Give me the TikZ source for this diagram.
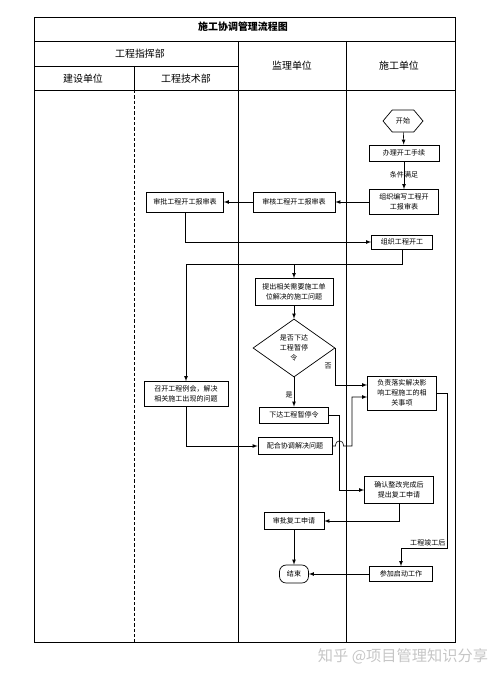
\documentclass[tikz,border=0pt]{standalone}
\usepackage{fontspec}
\setmainfont{Noto Sans CJK SC}
\usetikzlibrary{shapes.geometric,shapes.symbols,calc}

\tikzset{
  box/.style={draw, line width=0.6pt, align=center, inner sep=1pt, font=\fontsize{6}{8.5}\selectfont},
  lbl/.style={inner sep=1pt, font=\fontsize{6}{8}\selectfont},
  head/.style={inner sep=1pt, font=\fontsize{8.5}{10}\selectfont},
  grid/.style={line width=0.8pt},
}

\begin{document}
\begin{tikzpicture}[x=0.3mm, y=-0.3mm, >=latex, line width=0.5pt]
\useasboundingbox (0,0) rectangle (500,677);

% Table
\draw[grid] (34,17) rectangle (455,642);
\draw[grid] (34,41) -- (455,41);
\draw[grid] (34,66) -- (238,66);
\draw[grid] (34,90) -- (455,90);
\draw[grid] (134,66) -- (134,90);
\draw[grid, dash pattern=on 1mm off 0.6mm] (134,90) -- (134,642);
\draw[grid] (238,41) -- (238,642);
\draw[grid] (346,41) -- (346,642);

% Headers
\node[head, font=\fontsize{8.5}{10}\selectfont\bfseries] (h0) at (243,27) {施工协调管理流程图};
\node[head] (h1) at (140,54) {工程指挥部};
\node[head] (h2) at (83,79) {建设单位};
\node[head] (h3) at (186,79) {工程技术部};
\node[head] (h4) at (292,66) {监理单位};
\node[head] (h5) at (399,66) {施工单位};

% Nodes
\node[box, signal, signal to=east and west, signal pointer angle=100, minimum width=12mm, minimum height=6.6mm] (v0) at (403,121) {开始};
\node[box, minimum width=21mm, minimum height=4.8mm] (v1) at (404,153) {办理开工手续};
\node[box, minimum width=20.7mm, minimum height=7.5mm] (v2) at (404,202) {组织编写工程开\\工报审表};
\node[box, minimum width=24.6mm, minimum height=6mm] (v3) at (294,202) {审核工程开工报审表};
\node[box, minimum width=23.1mm, minimum height=6mm] (v4) at (185,202) {审批工程开工报审表};
\node[box, minimum width=18.3mm, minimum height=4.2mm] (v5) at (402,242) {组织工程开工};
\node[box, minimum width=23.4mm, minimum height=8.1mm] (v6) at (294,292) {提出相关需要施工单\\位解决的施工问题};
\node[box, diamond, inner sep=0pt, minimum width=24.6mm, minimum height=17.4mm] (v7) at (294,348) {是否下达\\工程暂停\\令};
\node[box, minimum width=20.7mm, minimum height=4.8mm] (v8) at (294,415) {下达工程暂停令};
\node[box, minimum width=20.7mm, minimum height=10.2mm] (v9) at (402,393) {负责落实解决影\\响工程施工的相\\关事项};
\node[box, minimum width=25.2mm, minimum height=7.5mm] (v10) at (186,394) {召开工程例会，解决\\相关施工出现的问题};
\node[box, minimum width=22.2mm, minimum height=5.1mm] (v11) at (295,446) {配合协调解决问题};
\node[box, minimum width=20.7mm, minimum height=8.1mm] (v12) at (399,490) {确认整改完成后\\提出复工申请};
\node[box, minimum width=18mm, minimum height=5.1mm] (v13) at (294,521) {审批复工申请};
\node[box, minimum width=18.9mm, minimum height=4.5mm] (v14) at (401,574) {参加启动工作};
\node[box, rounded corners=2mm, minimum width=8.7mm, minimum height=5.4mm] (v15) at (294,574) {结束};

% Arrows
\draw[->] (v0) -- (v1);
\draw[->] (v1) -- node[lbl] {条件满足} (v2);
\draw[->] (v2) -- (v3);
\draw[->] (v3) -- (v4);
\draw[->] (v4) |- (v5);
\draw[->] (v5.south) -- ++(0,15) -| (v10);
\draw[->] (v5.south) -- ++(0,15) -| (v6);
\draw[->] (v6) -- (v7);
\draw[->] (v7.east) |- node[lbl, pos=0.25, left=2pt] {否} ($(v9.west)+(0,-8)$);
\draw[->] (v7) -- node[lbl, pos=0.6, left] {是} (v8);
\draw[->] (v8.east) -- ++(10,0) |- (v12);
\draw[->] (v10) |- (v11);
\draw[->] (v11.east) -- (335.5,446) .. controls (335.5,439) and (343.5,439) .. (343.5,446) -- (352,446) |- ($(v9.west)+(0,4)$);
\draw[->] (v9.east) -- ++(10,0) -- ++(0,155) node[lbl, above left] {工程竣工后} -| (v14);
\draw[->] (v12) |- (v13);
\draw[->] (v13) -- (v15);
\draw[->] (v14) -- (v15);

% Watermark
\node[text=gray!45, font=\fontsize{13}{15}\selectfont] (w0) at (403,656) {知乎 @项目管理知识分享};

\end{tikzpicture}
\end{document}
